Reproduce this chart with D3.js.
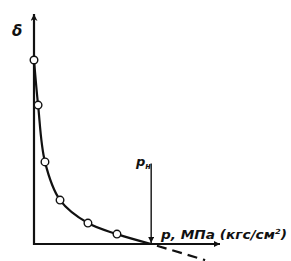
<!DOCTYPE html>
<html><head><meta charset="utf-8">
<script src="https://cdn.jsdelivr.net/npm/d3@7"></script>
<style>body{margin:0;background:#fff}svg{display:block}</style>
</head><body>
<svg id="c" width="291" height="261"></svg>
<script>
const pressure = [0, 2.2, 5.9, 14, 29, 44.6];
const delta = [80, 60.4, 35.7, 19.1, 9.1, 4.3];
const pN = 63;
const curveEnd = [63, 0];
const extrapEnd = [92, -7];
const labels = {y: "δ", x: "p, МПа (кгс/см", xSup: "2", xClose: ")", pN: "p", pNSub: "н"};

const svg = d3.select("#c");
const x = d3.scaleLinear().domain([0, 100]).range([34, 220]);
const y = d3.scaleLinear().domain([0, 100]).range([244, 14]);
const ink = "#111";

const defs = svg.append("defs");
defs.append("marker").attr("id","ah").attr("viewBox","0 0 10 10").attr("refX",10).attr("refY",5)
  .attr("markerWidth",10).attr("markerHeight",6).attr("markerUnits","userSpaceOnUse").attr("orient","auto")
  .append("path").attr("d","M0,0 L10,5 L0,10 Z").attr("fill",ink);
defs.append("marker").attr("id","ahy").attr("viewBox","0 0 10 10").attr("refX",10).attr("refY",5)
  .attr("markerWidth",20).attr("markerHeight",7).attr("markerUnits","userSpaceOnUse").attr("orient","auto")
  .append("path").attr("d","M0,0 L10,5 L0,10 L3,5 Z").attr("fill",ink);

// axes
svg.append("line").attr("x1",x(0)).attr("y1",y(0)+1).attr("x2",x(0)).attr("y2",y(100))
  .attr("stroke",ink).attr("stroke-width",2.2).attr("marker-end","url(#ahy)");
svg.append("line").attr("x1",x(0)-1).attr("y1",y(0)).attr("x2",x(100)).attr("y2",y(0))
  .attr("stroke",ink).attr("stroke-width",1.8).attr("marker-end","url(#ah)");

// curve
const pts = pressure.map((p,i)=>[p, delta[i]]).concat([curveEnd]);
const line = d3.line().x(d=>x(d[0])).y(d=>y(d[1])).curve(d3.curveCatmullRom.alpha(0.5));
svg.append("path").attr("d", line(pts)).attr("fill","none").attr("stroke",ink).attr("stroke-width",2.2);

// extrapolation dashed
svg.append("line").attr("x1",x(curveEnd[0])).attr("y1",y(curveEnd[1])).attr("x2",x(extrapEnd[0])).attr("y2",y(extrapEnd[1]))
  .attr("stroke",ink).attr("stroke-width",2.2).attr("stroke-dasharray","10,6").attr("stroke-dashoffset",-6);

// pN arrow
svg.append("line").attr("x1",x(pN)).attr("y1",y(35)).attr("x2",x(pN)).attr("y2",y(0)-1)
  .attr("stroke",ink).attr("stroke-width",1.4).attr("marker-end","url(#ah)");

// points
svg.selectAll("circle").data(pressure).join("circle")
  .attr("cx",(d)=>x(d)).attr("cy",(d,i)=>y(delta[i])).attr("r",3.8)
  .attr("fill","#fff").attr("stroke",ink).attr("stroke-width",1.4);

// labels
const font = "'DejaVu Sans', sans-serif";
svg.append("text").attr("x",12).attr("y",36).attr("font-family",font).attr("font-style","italic")
  .attr("font-weight","bold").attr("font-size",15).attr("fill",ink).text(labels.y);
const tp = svg.append("text").attr("x",136).attr("y",166).attr("font-family",font).attr("font-style","italic")
  .attr("font-weight","bold").attr("font-size",13).attr("fill",ink);
tp.append("tspan").text(labels.pN);
tp.append("tspan").attr("font-size",8).attr("dy",3).text(labels.pNSub);
const tx = svg.append("text").attr("x",161).attr("y",239).attr("font-family",font).attr("font-style","italic")
  .attr("font-weight","bold").attr("font-size",11.5).attr("fill",ink).attr("textLength",126).attr("lengthAdjust","spacingAndGlyphs");
tx.append("tspan").text(labels.x);
tx.append("tspan").attr("font-size",7).attr("dy",-5).text(labels.xSup);
tx.append("tspan").attr("dy",5).text(labels.xClose);
</script>
</body></html>
